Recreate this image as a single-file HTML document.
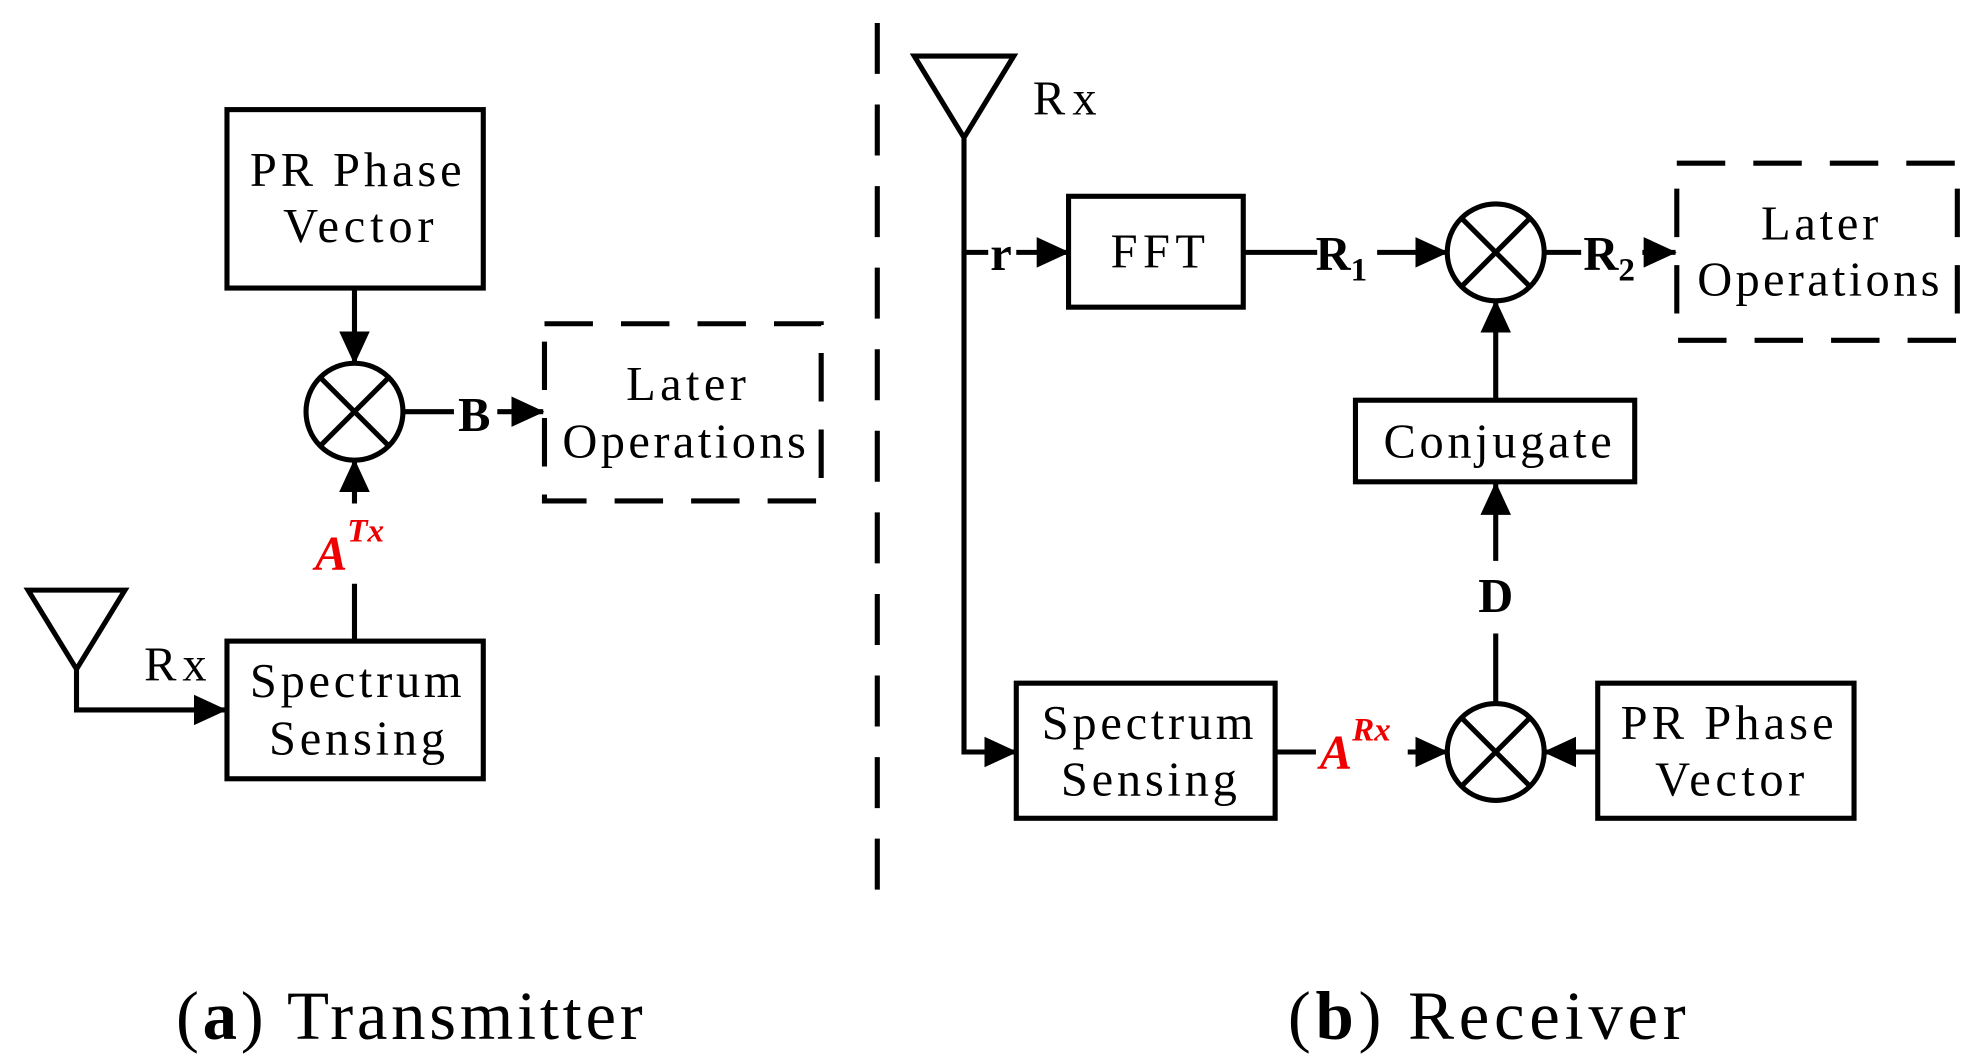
<!DOCTYPE html>
<html><head><meta charset="utf-8"><style>html,body{margin:0;padding:0;background:#fff}svg{display:block}</style></head><body>
<svg width="1979" height="1063" viewBox="0 0 1552 834" preserveAspectRatio="none" xmlns="http://www.w3.org/2000/svg">
<defs>
<marker id="ah" markerWidth="26" markerHeight="24" refX="25" refY="12" orient="auto" markerUnits="userSpaceOnUse"><path d="M0,0 L26,12 L0,24z" fill="#000"/></marker></defs>
<g fill="none" stroke="#000" stroke-width="4">
<rect x="178" y="86" width="201" height="140"/>
<circle cx="278" cy="323" r="38"/>
<path d="M251,296 L305,350 M305,296 L251,350"/>
<line x1="278" y1="226" x2="278" y2="285" marker-end="url(#ah)"/>
<line x1="278" y1="395" x2="278" y2="361" marker-end="url(#ah)"/>
<line x1="278" y1="458" x2="278" y2="503"/>
<line x1="316" y1="323" x2="356" y2="323"/>
<line x1="390" y1="323" x2="426" y2="323" marker-end="url(#ah)"/>
<rect x="427" y="254" width="217" height="139" stroke-dasharray="38,22"/>
<path d="M22,463 L98,463 L60,525 Z"/>
<path d="M60,525 L60,557 L177,557" marker-end="url(#ah)"/>
<rect x="178" y="503" width="201" height="108"/>
<line x1="688" y1="18" x2="688" y2="720" stroke-dasharray="40,24"/>
<path d="M717,44 L795,44 L756,108 Z"/>
<path d="M756,108 L756,590 L797,590" marker-end="url(#ah)"/>
<line x1="756" y1="198" x2="775" y2="198"/>
<line x1="797" y1="198" x2="838" y2="198" marker-end="url(#ah)"/>
<rect x="838" y="154" width="137" height="87"/>
<line x1="975" y1="198" x2="1033" y2="198"/>
<line x1="1080" y1="198" x2="1135" y2="198" marker-end="url(#ah)"/>
<circle cx="1173" cy="198" r="38"/>
<path d="M1146,171 L1200,225 M1200,171 L1146,225"/>
<line x1="1211" y1="198" x2="1240" y2="198"/>
<line x1="1288" y1="198" x2="1314" y2="198" marker-end="url(#ah)"/>
<rect x="1315" y="128" width="220" height="139" stroke-dasharray="38,22"/>
<rect x="1063" y="314" width="219" height="64"/>
<line x1="1173" y1="314" x2="1173" y2="236" marker-end="url(#ah)"/>
<line x1="1173" y1="552" x2="1173" y2="497"/>
<line x1="1173" y1="440" x2="1173" y2="379" marker-end="url(#ah)"/>
<rect x="797" y="536" width="203" height="106"/>
<line x1="1000" y1="590" x2="1032" y2="590"/>
<line x1="1104" y1="590" x2="1135" y2="590" marker-end="url(#ah)"/>
<circle cx="1173" cy="590" r="38"/>
<path d="M1146,563 L1200,617 M1200,563 L1146,617"/>
<rect x="1253" y="536" width="201" height="106"/>
<line x1="1253" y1="590" x2="1211" y2="590" marker-end="url(#ah)"/>
</g>
<g font-family="Liberation Serif, serif" font-size="38" fill="#000">
<text x="196" y="146" textLength="166" lengthAdjust="spacing">PR Phase</text>
<text x="222" y="190" textLength="118" lengthAdjust="spacing">Vector</text>
<text x="491" y="314" textLength="94" lengthAdjust="spacing">Later</text>
<text x="441" y="359" textLength="191" lengthAdjust="spacing">Operations</text>
<text x="196" y="547" textLength="166" lengthAdjust="spacing">Spectrum</text>
<text x="211" y="592" textLength="138" lengthAdjust="spacing">Sensing</text>
<text x="113" y="534" textLength="49" lengthAdjust="spacing">Rx</text>
<text x="810" y="90" textLength="50" lengthAdjust="spacing">Rx</text>
<text x="871" y="210" textLength="74" lengthAdjust="spacing">FFT</text>
<text x="1381" y="188" textLength="92" lengthAdjust="spacing">Later</text>
<text x="1331" y="232" textLength="190" lengthAdjust="spacing">Operations</text>
<text x="1085" y="359" textLength="179" lengthAdjust="spacing">Conjugate</text>
<text x="817" y="580" textLength="166" lengthAdjust="spacing">Spectrum</text>
<text x="832" y="624" textLength="138" lengthAdjust="spacing">Sensing</text>
<text x="1271" y="580" textLength="167" lengthAdjust="spacing">PR Phase</text>
<text x="1298" y="624" textLength="117" lengthAdjust="spacing">Vector</text>
<g font-weight="bold" text-anchor="middle">
<text x="372" y="338">B</text>
<text x="785" y="212">r</text>
<text x="1052" y="212">R<tspan font-size="26" dy="8">1</tspan></text>
<text x="1262" y="212">R<tspan font-size="26" dy="8">2</tspan></text>
<text x="1173" y="480">D</text>
</g>
<g fill="#e00" font-weight="bold" font-style="italic">
<text x="247" y="447">A<tspan font-size="26" dy="-22">Tx</tspan></text>
<text x="1035" y="603">A<tspan font-size="26" dy="-22">Rx</tspan></text>
</g>
<g font-size="54">
<text x="138" y="815" textLength="366" lengthAdjust="spacing">(<tspan font-weight="bold">a</tspan>) Transmitter</text>
<text x="1010" y="815" textLength="312" lengthAdjust="spacing">(<tspan font-weight="bold">b</tspan>) Receiver</text>
</g>
</g>
</svg>
</body></html>
